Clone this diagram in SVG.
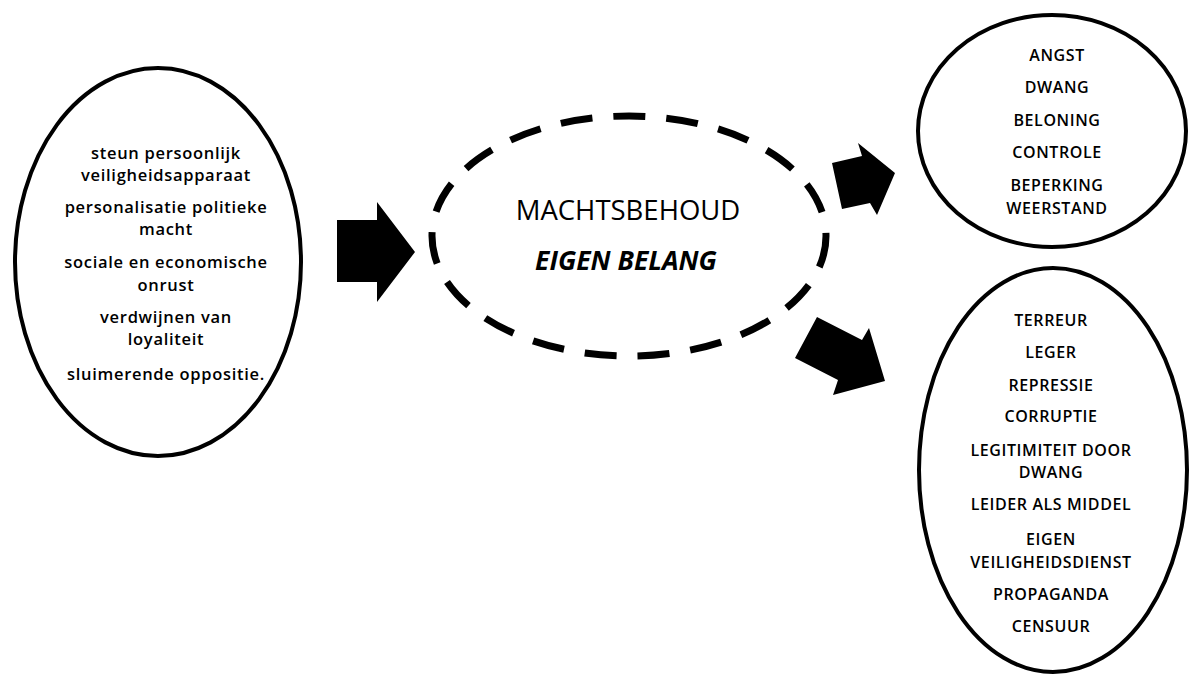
<svg xmlns="http://www.w3.org/2000/svg" width="1190" height="675" viewBox="0 0 1190 675">
  <style>
    .node { fill: #ffffff; stroke: #000000; stroke-width: 4; }
    .dashed { fill: #ffffff; stroke: #000000; stroke-width: 7; stroke-dasharray: 32 21; }
    .arrow { fill: #000000; stroke: none; }
    .lbl { font-family: "Open Sans", "Liberation Sans", sans-serif; font-size: 16.5px; font-weight: 600; fill: #000000; text-anchor: middle; letter-spacing: 0.7px; }
    .caps { font-family: "Open Sans", "Liberation Sans", sans-serif; font-size: 16px; font-weight: 600; fill: #000000; text-anchor: middle; letter-spacing: 0.6px; }
    .title { font-family: "Open Sans", "Liberation Sans", sans-serif; font-size: 27.5px; font-weight: 400; fill: #000000; text-anchor: middle; }
    .sub { font-family: "Open Sans", "Liberation Sans", sans-serif; font-size: 26.5px; font-weight: 700; font-style: italic; fill: #000000; text-anchor: middle; }
  </style>
  <rect width="1190" height="675" fill="#ffffff"/>

  <!-- causes -->
  <g id="causes">
    <ellipse class="node" cx="158" cy="262" rx="143" ry="194"/>
    <text class="lbl" x="166" y="159">steun persoonlijk</text>
    <text class="lbl" x="166" y="181">veiligheidsapparaat</text>
    <text class="lbl" x="166" y="213">personalisatie politieke</text>
    <text class="lbl" x="166" y="235">macht</text>
    <text class="lbl" x="166" y="268">sociale en economische</text>
    <text class="lbl" x="166" y="291">onrust</text>
    <text class="lbl" x="166" y="323">verdwijnen van</text>
    <text class="lbl" x="166" y="345">loyaliteit</text>
    <text class="lbl" x="166" y="380">sluimerende oppositie.</text>
  </g>

  <!-- central goal -->
  <g id="machtsbehoud">
    <ellipse class="dashed" cx="629" cy="236" rx="197" ry="120"/>
    <text class="title" x="628" y="220">MACHTSBEHOUD</text>
    <text class="sub" x="626" y="270">EIGEN BELANG</text>
  </g>

  <!-- soft means -->
  <g id="middelen-zacht">
    <ellipse class="node" cx="1052" cy="131" rx="134" ry="116"/>
    <text class="caps" x="1057" y="61">ANGST</text>
    <text class="caps" x="1057" y="93">DWANG</text>
    <text class="caps" x="1057" y="126">BELONING</text>
    <text class="caps" x="1057" y="158">CONTROLE</text>
    <text class="caps" x="1057" y="191">BEPERKING</text>
    <text class="caps" x="1057" y="214">WEERSTAND</text>
  </g>

  <!-- hard means -->
  <g id="middelen-hard">
    <ellipse class="node" cx="1053" cy="470" rx="134" ry="202"/>
    <text class="caps" x="1051" y="326">TERREUR</text>
    <text class="caps" x="1051" y="358">LEGER</text>
    <text class="caps" x="1051" y="391">REPRESSIE</text>
    <text class="caps" x="1051" y="422">CORRUPTIE</text>
    <text class="caps" x="1051" y="456">LEGITIMITEIT DOOR</text>
    <text class="caps" x="1051" y="478">DWANG</text>
    <text class="caps" x="1051" y="510">LEIDER ALS MIDDEL</text>
    <text class="caps" x="1051" y="545">EIGEN</text>
    <text class="caps" x="1051" y="568">VEILIGHEIDSDIENST</text>
    <text class="caps" x="1051" y="600">PROPAGANDA</text>
    <text class="caps" x="1051" y="632">CENSUUR</text>
  </g>

  <!-- block arrows -->
  <g id="connectors">
    <polygon class="arrow" points="337,220 377,220 377,202 415,252 377,302 377,282 337,282"/>
    <polygon class="arrow" points="832,163 862,156 858,143 895,173 877,215 870,203 842,209"/>
    <polygon class="arrow" points="817,317 862,340 869,328 885,381 833,395 838,380 795,358"/>
  </g>
</svg>
